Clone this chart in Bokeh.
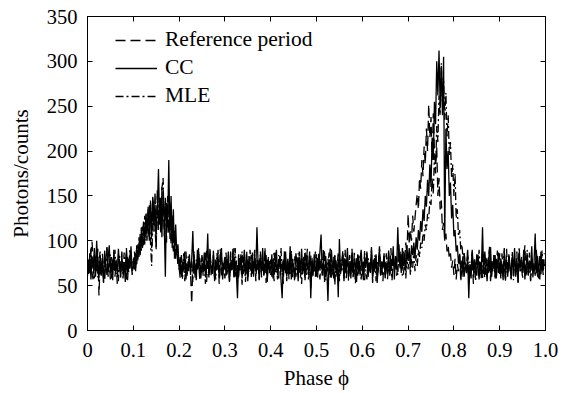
import numpy as np
from bokeh.plotting import figure
from bokeh.models import LinearAxis, FixedTicker, Legend, LegendItem, Range1d, CustomJSTickFormatter
from bokeh.embed import file_html
from bokeh.resources import INLINE

# ---- data ----
x_ticks = [0.0, 0.1, 0.2, 0.3, 0.4, 0.5, 0.6, 0.7, 0.8, 0.9, 1.0]
x_tick_labels = ["0", "0.1", "0.2", "0.3", "0.4", "0.5", "0.6", "0.7", "0.8", "0.9", "1.0"]
y_ticks = [0, 50, 100, 150, 200, 250, 300, 350]
phase_step = 0.0025

ref_period = [
    68, 80, 62, 88, 99, 72, 58, 83, 66, 91, 39, 74, 61, 86, 70, 55, 79, 93, 64, 75,
    57, 82, 68, 90, 60, 77, 52, 85, 71, 63, 88, 58, 74, 67, 92, 56, 80, 69, 84, 62,
    74, 88, 70, 95, 78, 104, 84, 115, 90, 124, 96, 130, 100, 138, 104, 145, 92, 150, 110, 155,
    90, 158, 112, 150, 118, 160, 165, 105, 145, 98, 150, 108, 142, 96, 130, 88, 112, 80, 94, 70,
    70, 58, 84, 66, 76, 55, 88, 62, 73, 80, 64, 30, 72, 85, 59, 77, 68, 91, 56, 74,
    82, 61, 70, 87, 54, 76, 65, 93, 60, 71, 84, 57, 79, 66, 90, 52, 73, 81, 62, 75,
    58, 83, 69, 76, 54, 88, 65, 72, 92, 60, 78, 56, 85, 67, 74, 51, 82, 70, 63, 89,
    57, 76, 68, 84, 62, 73, 90, 55, 79, 66, 71, 86, 59, 75, 64, 93, 53, 80, 68, 77,
    62, 79, 71, 55, 87, 66, 74, 58, 83, 69, 77, 52, 90, 64, 72, 80, 57, 86, 63, 75,
    68, 54, 82, 70, 61, 88, 59, 76, 66, 84, 56, 73, 91, 62, 78, 47, 81, 69, 74, 60,
    85, 63, 72, 57, 80, 68, 92, 54, 76, 65, 71, 87, 59, 74, 62, 83, 50, 78, 69, 56,
    81, 66, 75, 89, 58, 70, 63, 84, 55, 77, 67, 91, 60, 73, 52, 82, 68, 76, 61, 87,
    64, 79, 56, 72, 86, 60, 75, 68, 90, 53, 77, 65, 83, 58, 71, 94, 62, 74, 55, 80,
    69, 86, 57, 73, 64, 92, 59, 78, 67, 82, 61, 75, 96, 70, 85, 66, 88, 76, 98, 84,
    130, 96, 112, 100, 128, 110, 125, 140, 152, 135, 170, 158, 190, 172, 205, 185, 225, 200, 252, 215,
    238, 190, 242, 200, 185, 205, 150, 170, 135, 145, 112, 120, 100, 108, 88, 95, 80, 86, 70, 78,
    62, 80, 57, 74, 66, 88, 54, 71, 83, 60, 76, 68, 92, 58, 73, 64, 85, 52, 79, 70,
    61, 87, 66, 75, 56, 90, 69, 58, 81, 73, 64, 94, 55, 77, 68, 84, 60, 72, 89, 63,
    75, 58, 86, 67, 73, 54, 91, 62, 79, 70, 57, 84, 66, 76, 60, 88, 53, 74, 69, 82,
    63, 78, 95, 59, 72, 65, 87, 56, 80, 68, 74, 61, 90, 66, 58, 83, 71, 77, 62, 86,
]

cc = [
    74, 63, 86, 57, 81, 69, 92, 60, 100, 72, 58, 84, 66, 77, 53, 89, 70, 62, 80, 95,
    64, 73, 56, 87, 68, 79, 61, 91, 71, 59, 83, 67, 76, 54, 88, 63, 80, 72, 94, 66,
    70, 82, 66, 92, 80, 98, 86, 110, 92, 120, 102, 126, 108, 135, 100, 142, 112, 148, 120, 140,
    108, 135, 180, 118, 148, 104, 155, 122, 60, 142, 115, 190, 102, 150, 92, 135, 80, 118, 84, 96,
    68, 82, 60, 77, 71, 88, 57, 74, 66, 85, 62, 79, 111, 64, 73, 56, 90, 69, 81, 58,
    76, 67, 87, 61, 72, 108, 59, 83, 70, 64, 89, 55, 78, 68, 84, 60, 75, 92, 57, 73,
    82, 61, 70, 88, 56, 76, 67, 91, 59, 74, 64, 36, 80, 69, 85, 58, 72, 90, 62, 77,
    55, 83, 71, 66, 87, 60, 78, 68, 115, 73, 57, 81, 65, 92, 61, 75, 84, 54, 79, 70,
    66, 85, 58, 77, 71, 90, 62, 74, 83, 56, 36, 79, 68, 88, 60, 73, 65, 94, 57, 80,
    70, 62, 86, 75, 55, 82, 67, 91, 63, 76, 59, 84, 72, 66, 88, 36, 78, 61, 85, 69,
    60, 81, 70, 88, 107, 64, 75, 57, 83, 68, 33, 79, 62, 90, 71, 58, 84, 66, 77, 37,
    102, 63, 74, 86, 55, 80, 69, 92, 61, 75, 58, 87, 66, 79, 72, 54, 85, 63, 76, 90,
    67, 56, 82, 71, 88, 60, 76, 64, 93, 58, 79, 68, 85, 53, 74, 90, 62, 77, 70, 86,
    59, 75, 66, 89, 61, 80, 72, 94, 57, 83, 68, 115, 76, 88, 64, 92, 72, 85, 66, 90,
    78, 92, 70, 95, 84, 98, 80, 104, 90, 112, 100, 122, 110, 135, 122, 150, 138, 168, 150, 185,
    160, 215, 190, 255, 230, 300, 262, 312, 250, 295, 240, 305, 100, 225, 180, 200, 150, 165, 125, 140,
    105, 112, 88, 95, 75, 84, 66, 78, 60, 86, 71, 64, 82, 36, 74, 58, 90, 67, 79, 62,
    85, 70, 57, 76, 68, 115, 63, 88, 72, 55, 81, 66, 93, 60, 77, 69, 84, 58, 74, 87,
    63, 80, 71, 56, 89, 67, 76, 60, 85, 72, 58, 82, 69, 92, 62, 75, 54, 87, 70, 79,
    65, 90, 57, 73, 84, 61, 78, 68, 94, 59, 76, 108, 64, 83, 70, 57, 88, 66, 79, 72,
]

mle = [
    61, 77, 70, 92, 64, 56, 84, 68, 79, 59, 73, 88, 62, 75, 54, 81, 67, 93, 60, 72,
    85, 58, 76, 66, 90, 63, 71, 55, 83, 69, 78, 61, 87, 73, 57, 82, 65, 91, 70, 76,
    80, 68, 86, 74, 96, 82, 108, 88, 116, 95, 128, 100, 132, 106, 140, 98, 72, 120, 145, 112,
    92, 150, 118, 146, 108, 158, 170, 115, 148, 102, 140, 110, 132, 100, 120, 90, 106, 84, 90, 76,
    74, 63, 80, 57, 86, 69, 77, 60, 83, 71, 66, 75, 54, 88, 62, 79, 68, 92, 58, 73,
    84, 65, 77, 52, 89, 70, 61, 82, 74, 63, 80, 69, 57, 86, 72, 64, 91, 60, 76, 67,
    71, 87, 62, 78, 55, 84, 69, 75, 60, 92, 66, 73, 58, 81, 70, 88, 63, 76, 54, 83,
    72, 65, 90, 59, 77, 68, 85, 61, 74, 80, 56, 88, 67, 73, 62, 86, 70, 58, 82, 64,
    79, 60, 73, 88, 65, 70, 57, 84, 68, 92, 62, 75, 66, 81, 55, 78, 71, 63, 89, 58,
    74, 83, 60, 70, 86, 64, 77, 52, 80, 67, 91, 62, 75, 57, 69, 84, 60, 73, 66, 88,
    72, 59, 86, 66, 78, 61, 74, 89, 56, 70, 80, 64, 93, 58, 75, 68, 83, 60, 72, 87,
    55, 79, 67, 74, 62, 90, 57, 78, 70, 84, 63, 73, 58, 88, 66, 76, 61, 85, 69, 57,
    76, 62, 89, 68, 57, 81, 72, 64, 86, 60, 73, 84, 55, 78, 66, 91, 61, 75, 69, 83,
    58, 77, 70, 87, 63, 74, 56, 88, 67, 80, 72, 62, 90, 68, 84, 60, 64, 78, 58, 82,
    68, 86, 62, 80, 70, 88, 66, 84, 72, 90, 82, 98, 92, 108, 100, 118, 112, 130, 125, 145,
    140, 170, 152, 195, 175, 228, 210, 262, 240, 298, 255, 280, 235, 265, 215, 240, 195, 210, 170, 185,
    150, 175, 125, 135, 105, 112, 90, 96, 80, 86, 72, 65, 83, 58, 77, 69, 88, 61, 74, 55,
    82, 67, 90, 63, 76, 57, 85, 70, 62, 79, 68, 91, 59, 74, 66, 84, 57, 80, 71, 64,
    86, 60, 74, 68, 92, 57, 79, 65, 83, 70, 62, 88, 56, 75, 69, 81, 60, 93, 66, 73,
    58, 84, 71, 64, 90, 62, 77, 55, 82, 68, 75, 63, 87, 59, 72, 80, 61, 89, 67, 74,
]

phase = [round(i * phase_step, 5) for i in range(len(cc))]

FONT = "Liberation Serif"
TICK_FS = "20.5px"
LABEL_FS = "21px"
LEGEND_FS = "21.5px"

p = figure(width=582, height=393, x_range=Range1d(0, 1), y_range=Range1d(0, 350),
           output_backend="svg", toolbar_location=None,
           min_border_left=87, min_border_right=37, min_border_top=16, min_border_bottom=63)
p.grid.visible = False
p.outline_line_color = "black"
p.outline_line_width = 1
p.background_fill_color = "white"
p.border_fill_color = "white"

r_ref = p.line(phase, ref_period, line_color="black", line_width=1.3, line_dash="10 5")
r_cc = p.line(phase, cc, line_color="black", line_width=1.3)
r_mle = p.line(phase, mle, line_color="black", line_width=1.3, line_dash="8 3 2 3")

def style(ax):
    ax.axis_line_color = "black"
    ax.major_tick_line_color = "black"
    ax.major_tick_in = 5
    ax.major_tick_out = 0
    ax.minor_tick_line_color = None
    ax.major_label_text_font = FONT
    ax.major_label_text_font_size = TICK_FS
    ax.major_label_text_color = "black"
    ax.axis_label_text_font = FONT
    ax.axis_label_text_font_style = "normal"
    ax.axis_label_text_font_size = LABEL_FS
    ax.axis_label_text_color = "black"

xt = FixedTicker(ticks=x_ticks)
yt = FixedTicker(ticks=y_ticks)
xover = {t: l for t, l in zip(x_ticks, x_tick_labels)}

xa = p.xaxis[0]
xa.ticker = xt
xa.major_label_overrides = xover
xa.axis_label = "Phase \u03d5"
style(xa)
xa.major_label_standoff = 12
xa.axis_label_standoff = 6

ya = p.yaxis[0]
ya.ticker = yt
ya.axis_label = "Photons/counts"
style(ya)
ya.major_label_standoff = 10
ya.axis_label_standoff = 11

blank = CustomJSTickFormatter(code="return ''")
top = LinearAxis(ticker=FixedTicker(ticks=x_ticks), formatter=blank)
style(top)
top.major_label_standoff = 0
p.add_layout(top, "above")
right = LinearAxis(ticker=FixedTicker(ticks=y_ticks), formatter=blank)
style(right)
right.major_label_standoff = 0
p.add_layout(right, "right")

legend = Legend(items=[
    LegendItem(label="Reference period", renderers=[r_ref]),
    LegendItem(label="CC", renderers=[r_cc]),
    LegendItem(label="MLE", renderers=[r_mle]),
], location=(28, 222))
legend.label_text_font = FONT
legend.label_text_font_size = LEGEND_FS
legend.label_text_color = "black"
legend.border_line_color = None
legend.background_fill_alpha = 0
legend.padding = 0
legend.margin = 0
legend.spacing = 3
legend.glyph_width = 42
legend.glyph_height = 24
legend.label_height = 24
legend.label_standoff = 8
p.add_layout(legend, "center")

open("out.html", "w").write(file_html(p, INLINE))
